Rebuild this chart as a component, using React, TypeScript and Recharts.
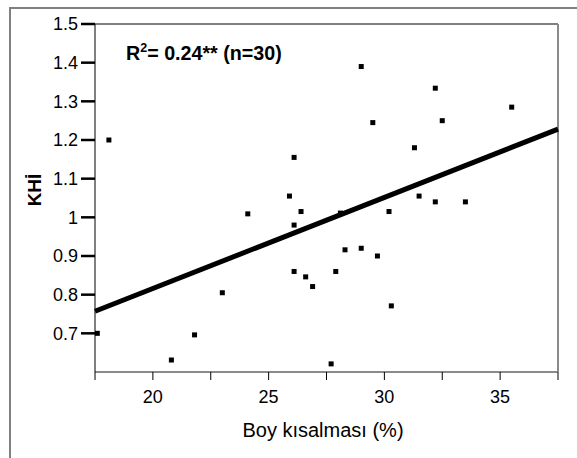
import React from "react";
import {
  ScatterChart,
  Scatter,
  XAxis,
  YAxis,
  ReferenceLine,
} from "recharts";

// Boy kısalması (%) and KHİ for each of the 30 samples
const shrinkage = [
  18.1, 17.6, 20.8, 21.8, 23.0, 24.1, 29.0, 29.5, 26.1, 25.9,
  26.4, 26.1, 28.1, 30.2, 28.3, 29.0, 29.7, 26.1, 26.6, 26.9,
  27.9, 30.3, 27.7, 32.2, 35.5, 32.5, 31.3, 31.5, 32.2, 33.5,
];
const khi = [
  1.2, 0.7, 0.631, 0.696, 0.805, 1.009, 1.39, 1.245, 1.155, 1.055,
  1.015, 0.98, 1.011, 1.015, 0.916, 0.92, 0.9, 0.86, 0.846, 0.821,
  0.86, 0.771, 0.621, 1.334, 1.285, 1.25, 1.18, 1.055, 1.04, 1.04,
];

const xTicks = [17.5, 20, 22.5, 25, 27.5, 30, 32.5, 35, 37.5];
const yTicks = [0.7, 0.8, 0.9, 1, 1.1, 1.2, 1.3, 1.4, 1.5];

// fitted regression line: KHİ = intercept + slope * x
const fitIntercept = 0.345;
const fitSlope = 0.02355;

const X_MIN = 17.5;
const X_MAX = 37.5;

const points = shrinkage.map((x, i) => ({ x, y: khi[i] }));

const FONT = "'Liberation Sans', Arial, sans-serif";

function SquareDot(props: any) {
  const { cx, cy } = props;
  return <rect x={cx - 2.5} y={cy - 2.5} width={5} height={5} fill="#000" />;
}

export default function App() {
  return (
    <div style={{ position: "absolute", left: 0, top: 0, width: 577, height: 458, background: "#fff" }}>
      <div
        style={{
          position: "absolute",
          left: 9,
          top: 7,
          width: 570,
          height: 460,
          borderTop: "2px solid #808080",
          borderLeft: "2px solid #808080",
        }}
      />
      <div style={{ position: "absolute", left: 0, top: 0 }}>
        <ScatterChart
          width={577}
          height={458}
          margin={{ top: 24, right: 19, bottom: 0, left: 0 }}
        >
          <XAxis
            type="number"
            dataKey="x"
            domain={[X_MIN, X_MAX]}
            ticks={xTicks}
            allowDataOverflow
            height={86}
            tickSize={8}
            tickMargin={10}
            tickFormatter={(v: number) => (v % 5 === 0 ? String(v) : "")}
            tick={{ fontSize: 18, fill: "#000", fontFamily: FONT }}
            axisLine={{ stroke: "#8a8a8a", strokeWidth: 2 }}
            tickLine={{ stroke: "#000", strokeWidth: 1 }}
          />
          <YAxis
            type="number"
            dataKey="y"
            domain={[0.6, 1.5]}
            ticks={yTicks}
            allowDataOverflow
            width={95}
            tickSize={14}
            tickMargin={3}
            tickFormatter={(v: number) => String(v)}
            tick={{ fontSize: 18, fill: "#000", fontFamily: FONT }}
            axisLine={{ stroke: "#000", strokeWidth: 1 }}
            tickLine={{ stroke: "#000", strokeWidth: 2.5 }}
          />
          <ReferenceLine y={1.5} stroke="#000" strokeWidth={1} />
          <ReferenceLine x={X_MAX} stroke="#8a8a8a" strokeWidth={2} />
          <ReferenceLine
            segment={[
              { x: X_MIN, y: fitIntercept + fitSlope * X_MIN },
              { x: X_MAX, y: fitIntercept + fitSlope * X_MAX },
            ]}
            stroke="#000"
            strokeWidth={5}
          />
          <Scatter data={points} shape={SquareDot} isAnimationActive={false} />
          <text
            x={126}
            y={60}
            fontFamily={FONT}
            fontWeight="bold"
            fontSize={19.7}
            fill="#000"
          >
            R
            <tspan fontSize={12.5} dy={-8}>2</tspan>
            <tspan dy={8}>= 0.24** (n=30)</tspan>
          </text>
          <text
            transform="translate(41,190) rotate(-90)"
            textAnchor="middle"
            fontFamily={FONT}
            fontWeight="bold"
            fontSize={19}
            fill="#000"
          >
            KHİ
          </text>
          <text
            x={323}
            y={437}
            textAnchor="middle"
            fontFamily={FONT}
            fontSize={20}
            fill="#000"
          >
            Boy kısalması (%)
          </text>
        </ScatterChart>
      </div>
    </div>
  );
}
